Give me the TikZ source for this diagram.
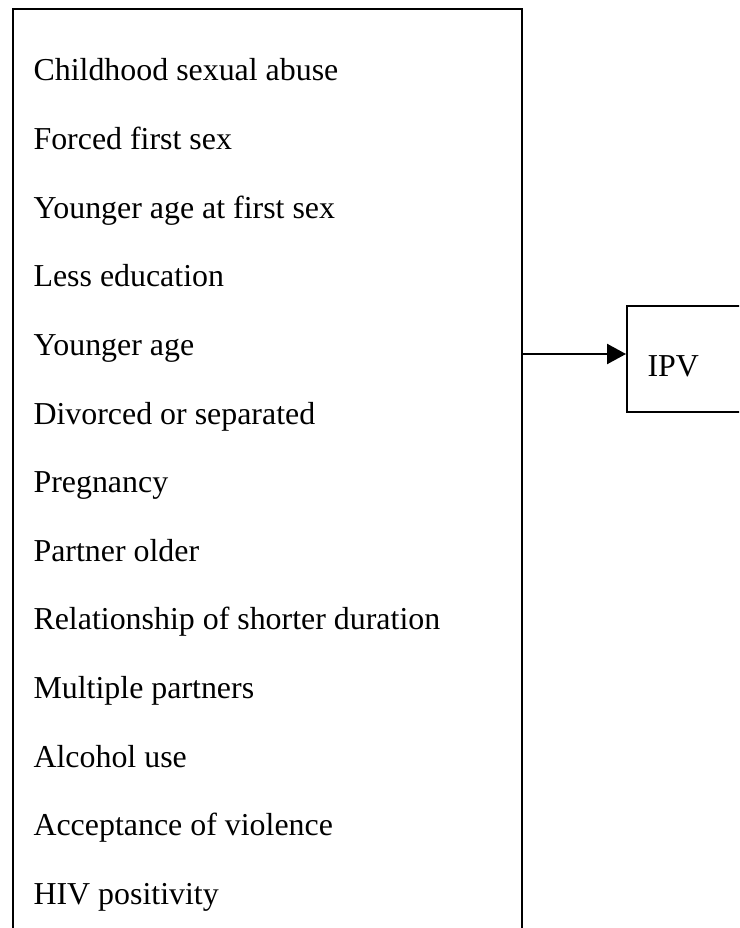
\documentclass[tikz,border=0pt]{standalone}
\usepackage{fontspec}
\setmainfont{Liberation Serif}
\usetikzlibrary{positioning, arrows.meta}

\begin{document}
\begin{tikzpicture}[
  x=0.3636pt, y=-0.3636pt,
  factorbox/.style={draw, line width=0.75pt, anchor=north west, inner sep=0pt,
               minimum width=185.1pt, minimum height=340pt},
  outbox/.style={draw, line width=0.75pt, anchor=north west, inner sep=0pt,
               minimum width=60pt, minimum height=38.5pt},
  factor/.style={anchor=base west, inner sep=0pt, font=\fontsize{11.6}{14}\selectfont},
  arrow/.style={-{Triangle[length=6.9pt, width=7.3pt]}, line width=0.75pt},
]
\useasboundingbox (0,0) rectangle (739,928);
\clip (0,0) rectangle (739,928);
% risk factors box, runs off the page at the bottom
\node[factorbox] (factors) at (12,8) {};
\foreach \name [count=\i from 0] in {Childhood sexual abuse, Forced first sex,
    Younger age at first sex, Less education, Younger age, Divorced or separated,
    Pregnancy, Partner older, Relationship of shorter duration, Multiple partners,
    Alcohol use, Acceptance of violence, HIV positivity}
  \node[factor] (f\i) at (33,{81+68.6*\i}) {\name};
% outcome box, runs off the page at the right
\node[outbox] (ipv) at (626,305) {};
\node[factor] (ipvtext) at (647,377) {IPV};
\coordinate (level) at (0,354);
\coordinate (src) at (factors.east |- level);
\draw[arrow] (src) -- (src -| ipv.west);
\end{tikzpicture}
\end{document}
